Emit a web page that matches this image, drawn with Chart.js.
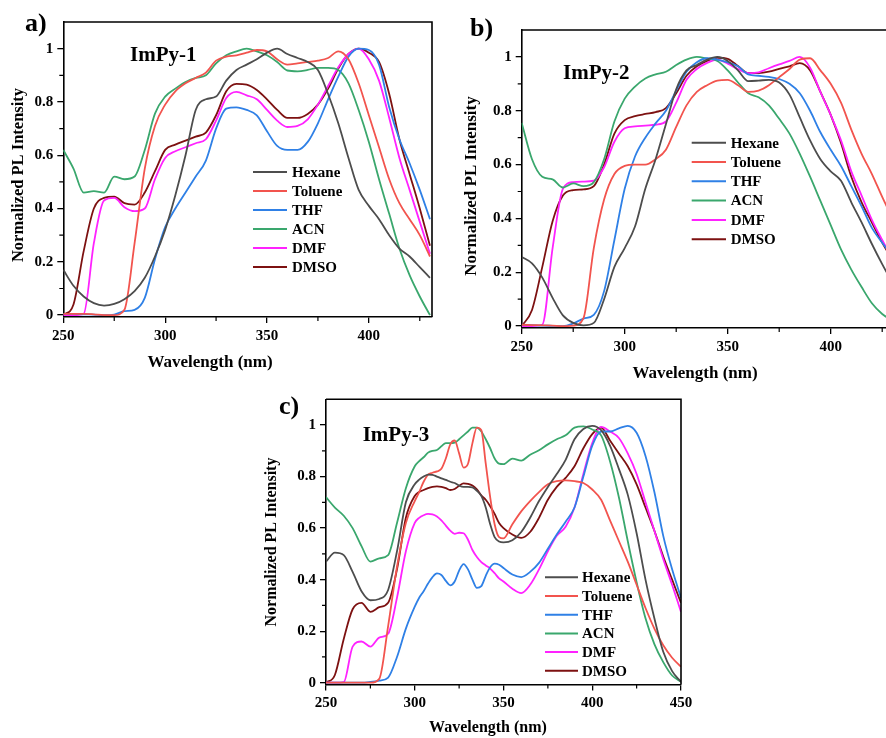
<!DOCTYPE html>
<html>
<head>
<meta charset="utf-8">
<script src="https://cdn.jsdelivr.net/npm/chart.js@4.4.1/dist/chart.umd.min.js"></script>
<style>
  html, body { margin: 0; padding: 0; overflow: hidden; background: #fff; }
  body { width: 886px; height: 738px; position: relative; }
  canvas { position: absolute; }
</style>
</head>
<body>
<canvas id="panelA" width="440" height="380" style="left:0;top:0"></canvas>
<canvas id="panelB" width="460" height="390" style="left:440px;top:0"></canvas>
<canvas id="panelC" width="460" height="378" style="left:250px;top:360px"></canvas>
<script>
// Espectros de PL normalizados de ImPy-1, ImPy-2 e ImPy-3 en seis disolventes
const solvents = ['Hexane', 'Toluene', 'THF', 'ACN', 'DMF', 'DMSO'];
const solventColors = ['#4d4d4d', '#f2544e', '#2f80e6', '#3aa76d', '#ff22ff', '#7d1111'];

const yTicks = [0, 0.2, 0.4, 0.6, 0.8, 1];
const yMinor = [0.1, 0.3, 0.5, 0.7, 0.9];
const xTicksAB = [250, 300, 350, 400];
const xTicksC = [250, 300, 350, 400, 450];
const xMinor = [275, 325, 375, 425];

// ImPy-1
const wlA = [250, 255, 260, 265, 270, 275, 280, 285, 290, 295, 300, 305, 310, 315, 320, 325, 330, 335, 340,
  345, 350, 355, 360, 365, 370, 375, 380, 385, 390, 395, 400, 405, 410, 415, 420, 425, 430];
const hexaneA = [0.17, 0.11, 0.07, 0.045, 0.036, 0.042, 0.06, 0.09, 0.14, 0.22, 0.32, 0.45, 0.60, 0.77, 0.81, 0.82, 0.88, 0.92, 0.94,
  0.96, 0.985, 1.0, 0.98, 0.965, 0.95, 0.92, 0.83, 0.72, 0.59, 0.47, 0.41, 0.36, 0.30, 0.25, 0.22, 0.18, 0.14];
const tolueneA = [0.005, 0.005, 0.005, 0.003, 0.0, 0.0, 0.02, 0.27, 0.55, 0.71, 0.79, 0.84, 0.87, 0.89, 0.91, 0.955, 0.97, 0.975, 0.985,
  0.995, 0.99, 0.96, 0.94, 0.945, 0.95, 0.955, 0.965, 0.99, 0.96, 0.87, 0.75, 0.63, 0.51, 0.42, 0.36, 0.30, 0.22];
const thfA = [0.005, 0.005, 0.003, 0.002, 0.0, 0.002, 0.015, 0.02, 0.065, 0.21, 0.33, 0.40, 0.46, 0.52, 0.58, 0.70, 0.775, 0.78, 0.77,
  0.75, 0.69, 0.635, 0.62, 0.62, 0.65, 0.72, 0.81, 0.895, 0.97, 1.0, 0.995, 0.94, 0.78, 0.66, 0.57, 0.47, 0.36];
const acnA = [0.62, 0.55, 0.46, 0.465, 0.46, 0.52, 0.51, 0.52, 0.62, 0.756, 0.82, 0.85, 0.875, 0.89, 0.90, 0.945, 0.975, 0.99, 1.0,
  0.99, 0.975, 0.95, 0.918, 0.915, 0.92, 0.928, 0.928, 0.92, 0.87, 0.77, 0.65, 0.51, 0.38, 0.25, 0.15, 0.07, 0.0];
const dmfA = [0.0, 0.0, 0.005, 0.27, 0.43, 0.44, 0.405, 0.39, 0.40, 0.51, 0.59, 0.615, 0.63, 0.645, 0.66, 0.73, 0.815, 0.838, 0.825,
  0.81, 0.77, 0.73, 0.706, 0.71, 0.735, 0.79, 0.86, 0.93, 0.98, 1.0, 0.96, 0.88, 0.74, 0.59, 0.47, 0.35, 0.23];
const dmsoA = [0.0, 0.04, 0.24, 0.40, 0.44, 0.445, 0.42, 0.415, 0.46, 0.54, 0.62, 0.64, 0.655, 0.67, 0.685, 0.75, 0.84, 0.868, 0.865,
  0.845, 0.81, 0.77, 0.74, 0.74, 0.755, 0.79, 0.85, 0.925, 0.98, 1.0, 0.985, 0.95, 0.83, 0.66, 0.53, 0.40, 0.26];

// ImPy-2
const wlB = wlA;
const hexaneB = [0.257, 0.233, 0.18, 0.105, 0.04, 0.012, 0.003, 0.012, 0.10, 0.22, 0.29, 0.37, 0.51, 0.62, 0.75, 0.88, 0.95, 0.97, 0.99,
  1.0, 0.985, 0.95, 0.91, 0.912, 0.915, 0.905, 0.86, 0.775, 0.69, 0.62, 0.575, 0.54, 0.46, 0.385, 0.305, 0.23, 0.16];
const tolueneB = [0.005, 0.004, 0.003, 0.002, 0.0, 0.002, 0.03, 0.29, 0.47, 0.565, 0.595, 0.60, 0.60, 0.62, 0.655, 0.74, 0.82, 0.87, 0.895,
  0.912, 0.915, 0.895, 0.87, 0.875, 0.895, 0.925, 0.955, 0.99, 0.995, 0.95, 0.90, 0.83, 0.73, 0.64, 0.565, 0.48, 0.40];
const thfB = [0.005, 0.004, 0.002, 0.001, 0.0, 0.01, 0.028, 0.042, 0.13, 0.32, 0.51, 0.63, 0.70, 0.753, 0.80, 0.875, 0.945, 0.98, 0.995,
  0.99, 0.98, 0.965, 0.935, 0.93, 0.926, 0.918, 0.90, 0.865, 0.80, 0.72, 0.655, 0.595, 0.52, 0.445, 0.365, 0.31, 0.26];
const acnB = [0.755, 0.62, 0.555, 0.545, 0.515, 0.53, 0.52, 0.535, 0.62, 0.76, 0.845, 0.89, 0.92, 0.935, 0.945, 0.97, 0.99, 1.0, 0.994,
  0.985, 0.95, 0.905, 0.865, 0.85, 0.82, 0.77, 0.715, 0.64, 0.555, 0.465, 0.375, 0.285, 0.21, 0.145, 0.085, 0.045, 0.02];
const dmfB = [0.0, 0.0, 0.005, 0.29, 0.51, 0.535, 0.537, 0.54, 0.59, 0.685, 0.735, 0.742, 0.745, 0.748, 0.76, 0.83, 0.915, 0.955, 0.978,
  0.99, 0.975, 0.955, 0.94, 0.943, 0.958, 0.972, 0.985, 1.0, 0.96, 0.87, 0.785, 0.69, 0.575, 0.485, 0.395, 0.32, 0.25];
const dmsoB = [0.0, 0.06, 0.22, 0.39, 0.485, 0.505, 0.508, 0.52, 0.60, 0.715, 0.765, 0.78, 0.788, 0.795, 0.81, 0.865, 0.93, 0.965, 0.985,
  0.997, 0.993, 0.966, 0.94, 0.94, 0.945, 0.956, 0.965, 0.977, 0.95, 0.87, 0.785, 0.68, 0.555, 0.46, 0.385, 0.31, 0.245];

// ImPy-3 (paso más fino entre 300 y 350 nm)
const wlC = [250, 255, 260, 265, 270, 275, 280, 285, 290, 295, 300,
  302.5, 305, 307.5, 310, 312.5, 315, 317.5, 320, 322.5, 325, 327.5, 330, 332.5, 335, 337.5, 340, 342.5, 345, 347.5, 350,
  355, 360, 365, 370, 375, 380, 385, 390, 395, 400, 405, 410, 415, 420, 425, 430, 435, 440, 445, 450];
const hexaneC = [0.47, 0.505, 0.495, 0.43, 0.355, 0.32, 0.325, 0.36, 0.51, 0.70, 0.77,
  0.788, 0.80, 0.808, 0.807, 0.80, 0.793, 0.787, 0.78, 0.775, 0.765, 0.76, 0.76, 0.758, 0.745, 0.725, 0.68, 0.615, 0.565, 0.548, 0.545,
  0.553, 0.585, 0.64, 0.705, 0.76, 0.81, 0.865, 0.945, 0.985, 0.997, 0.98, 0.92, 0.83, 0.73, 0.58, 0.40, 0.25, 0.12, 0.045, 0.003];
const tolueneC = [0.0, 0.0, 0.0, 0.0, 0.0, 0.0, 0.015, 0.22, 0.45, 0.62, 0.705,
  0.74, 0.78, 0.808, 0.815, 0.82, 0.83, 0.87, 0.925, 0.94, 0.89, 0.835, 0.85, 0.93, 0.99, 0.98, 0.85, 0.72, 0.615, 0.565, 0.56,
  0.615, 0.665, 0.705, 0.74, 0.77, 0.782, 0.785, 0.782, 0.775, 0.75, 0.71, 0.63, 0.55, 0.47, 0.38, 0.29, 0.21, 0.145, 0.097, 0.062];
const thfC = [0.0, 0.0, 0.0, 0.0, 0.0, 0.003, 0.008, 0.02, 0.10, 0.21, 0.295,
  0.33, 0.355, 0.385, 0.41, 0.424, 0.418, 0.395, 0.378, 0.393, 0.435, 0.46, 0.44, 0.40, 0.368, 0.375, 0.415, 0.448, 0.462, 0.458, 0.445,
  0.42, 0.41, 0.43, 0.465, 0.52, 0.575, 0.625, 0.68, 0.80, 0.92, 0.975, 0.975, 0.987, 0.997, 0.97, 0.88, 0.74, 0.57, 0.44, 0.33];
const acnC = [0.72, 0.68, 0.648, 0.60, 0.53, 0.47, 0.483, 0.495, 0.62, 0.755, 0.84,
  0.86, 0.875, 0.893, 0.90, 0.903, 0.918, 0.93, 0.93, 0.932, 0.945, 0.96, 0.975, 0.99, 0.99, 0.975, 0.945, 0.91, 0.87, 0.85, 0.848,
  0.87, 0.862, 0.885, 0.902, 0.925, 0.945, 0.96, 0.99, 0.995, 0.983, 0.96, 0.86, 0.72, 0.55, 0.39, 0.25, 0.15, 0.08, 0.028, 0.004];
const dmfC = [0.0, 0.0, 0.002, 0.14, 0.16, 0.14, 0.175, 0.19, 0.33, 0.51, 0.62,
  0.64, 0.65, 0.655, 0.653, 0.645, 0.63, 0.61, 0.59, 0.578, 0.582, 0.58, 0.555, 0.515, 0.488, 0.468, 0.455, 0.443, 0.425, 0.405, 0.393,
  0.365, 0.348, 0.38, 0.44, 0.51, 0.57, 0.605, 0.68, 0.81, 0.93, 0.993, 0.975, 0.95, 0.89, 0.81, 0.70, 0.59, 0.48, 0.38, 0.275];
const dmsoC = [0.0, 0.03, 0.17, 0.285, 0.31, 0.275, 0.293, 0.31, 0.44, 0.64, 0.725,
  0.74, 0.748, 0.755, 0.76, 0.762, 0.76, 0.755, 0.748, 0.752, 0.764, 0.774, 0.772, 0.765, 0.75, 0.727, 0.71, 0.685, 0.655, 0.62, 0.60,
  0.575, 0.562, 0.585, 0.64, 0.71, 0.76, 0.795, 0.84, 0.91, 0.965, 0.99, 0.94, 0.89, 0.84, 0.77, 0.68, 0.59, 0.49, 0.40, 0.31];

const serif = '"Liberation Serif", "Times New Roman", serif';
const tickFont = { family: serif, weight: 'bold', size: 15 };

// marco superior/derecho, ticks menores, leyenda con fondo blanco y rótulos
const decoPlugin = {
  id: 'deco',
  afterDatasetsDraw(chart, args, o) {
    const { ctx, chartArea: ca, scales: { x, y } } = chart;
    ctx.save();
    ctx.strokeStyle = '#000';
    ctx.lineWidth = 1.6;
    ctx.beginPath();
    ctx.moveTo(ca.left, ca.top);
    ctx.lineTo(ca.right, ca.top);
    ctx.lineTo(ca.right, ca.bottom);
    ctx.stroke();

    ctx.lineWidth = 1.2;
    ctx.beginPath();
    xMinor.forEach(v => {
      const px = x.getPixelForValue(v);
      if (px > ca.right) return;
      ctx.moveTo(px, ca.bottom);
      ctx.lineTo(px, ca.bottom + 4);
    });
    yMinor.forEach(v => {
      const py = y.getPixelForValue(v);
      ctx.moveTo(ca.left, py);
      ctx.lineTo(ca.left - 4, py);
    });
    ctx.stroke();

    // leyenda
    const lg = o.legend;
    ctx.font = 'bold 15px ' + serif;
    const textW = Math.max(...solvents.map(s => ctx.measureText(s).width));
    ctx.fillStyle = '#fff';
    ctx.fillRect(lg.x0 - 2, lg.y0 - 9, lg.tx - lg.x0 + textW - 2, lg.step * solvents.length);
    ctx.textBaseline = 'middle';
    ctx.textAlign = 'left';
    chart.data.datasets.forEach((ds, i) => {
      const ry = lg.y0 + i * lg.step;
      ctx.strokeStyle = ds.borderColor;
      ctx.lineWidth = 2;
      ctx.beginPath();
      ctx.moveTo(lg.x0, ry);
      ctx.lineTo(lg.x1, ry);
      ctx.stroke();
      ctx.fillStyle = '#000';
      ctx.fillText(ds.label, lg.tx, ry + 1);
    });

    // rótulos del panel
    ctx.fillStyle = '#000';
    ctx.textBaseline = 'alphabetic';
    ctx.font = 'bold 26px ' + serif;
    ctx.fillText(o.letter.text, o.letter.x, o.letter.y);
    ctx.font = 'bold 21px ' + serif;
    ctx.fillText(o.name.text, o.name.x, o.name.y);

    ctx.textAlign = 'center';
    ctx.textBaseline = 'middle';
    ctx.font = 'bold ' + o.xTitle.size + 'px ' + serif;
    ctx.fillText('Wavelength (nm)', o.xTitle.x, o.xTitle.y);
    ctx.translate(o.yTitle.x, o.yTitle.y);
    ctx.rotate(-Math.PI / 2);
    ctx.font = 'bold ' + o.yTitle.size + 'px ' + serif;
    ctx.fillText('Normalized PL Intensity', 0, 0);
    ctx.restore();
  }
};

function buildPanel(id, wl, series, cfg) {
  const datasets = solvents.map((name, i) => ({
    label: name,
    data: wl.map((w, k) => ({ x: w, y: series[i][k] })),
    borderColor: solventColors[i],
    borderWidth: 1.8,
    pointRadius: 0,
    cubicInterpolationMode: 'monotone',
    fill: false
  }));
  return new Chart(document.getElementById(id), {
    type: 'line',
    data: { datasets },
    options: {
      responsive: false,
      animation: false,
      events: [],
      layout: { padding: cfg.padding },
      plugins: { legend: { display: false }, tooltip: { enabled: false }, deco: cfg.deco },
      scales: {
        x: {
          type: 'linear',
          min: 250,
          max: cfg.xMax,
          afterBuildTicks: s => { s.ticks = cfg.xTicks.map(v => ({ value: v })); },
          afterFit: s => { s.height = cfg.xHeight; },
          grid: { drawOnChartArea: false, drawTicks: true, tickLength: 6, color: '#000', lineWidth: 1.3 },
          border: { color: '#000', width: 1.6 },
          ticks: { font: tickFont, color: '#000', padding: 4, maxRotation: 0, autoSkip: false }
        },
        y: {
          min: -0.007,
          max: 1.1,
          afterBuildTicks: s => { s.ticks = yTicks.map(v => ({ value: v })); },
          afterFit: s => { s.width = cfg.yWidth; },
          grid: { drawOnChartArea: false, drawTicks: true, tickLength: 6, color: '#000', lineWidth: 1.3 },
          border: { color: '#000', width: 1.6 },
          ticks: { font: tickFont, color: '#000', padding: 4, callback: v => String(v) }
        }
      }
    },
    plugins: [decoPlugin]
  });
}

buildPanel('panelA', wlA, [hexaneA, tolueneA, thfA, acnA, dmfA, dmsoA], {
  xMax: 431, xTicks: xTicksAB,
  padding: { left: 0, right: 8, top: 22, bottom: 0 },
  yWidth: 63.3, xHeight: 63,
  deco: {
    legend: { x0: 253, x1: 287, tx: 292, y0: 172, step: 19 },
    letter: { text: 'a)', x: 25, y: 31 },
    name: { text: 'ImPy-1', x: 130, y: 61 },
    xTitle: { x: 210, y: 363, size: 17 },
    yTitle: { x: 19, y: 175, size: 16.5 }
  }
});

buildPanel('panelB', wlB, [hexaneB, tolueneB, thfB, acnB, dmfB, dmsoB], {
  xMax: 430, xTicks: xTicksAB,
  padding: { left: 0, right: 7.5, top: 30, bottom: 0 },
  yWidth: 81.7, xHeight: 62,
  deco: {
    legend: { x0: 251.7, x1: 286, tx: 290.7, y0: 142.7, step: 19.3 },
    letter: { text: 'b)', x: 30, y: 36 },
    name: { text: 'ImPy-2', x: 123, y: 79 },
    xTitle: { x: 255, y: 374, size: 17 },
    yTitle: { x: 31.7, y: 186, size: 17 }
  }
});

buildPanel('panelC', wlC, [hexaneC, tolueneC, thfC, acnC, dmfC, dmsoC], {
  xMax: 450, xTicks: xTicksC,
  padding: { left: 0, right: 29, top: 39.3, bottom: 0 },
  yWidth: 76, xHeight: 53.5,
  deco: {
    legend: { x0: 295, x1: 328, tx: 332, y0: 217.3, step: 18.7 },
    letter: { text: 'c)', x: 29, y: 54 },
    name: { text: 'ImPy-3', x: 112.7, y: 81 },
    xTitle: { x: 238, y: 367.5, size: 16 },
    yTitle: { x: 21.7, y: 182, size: 16 }
  }
});
</script>
</body>
</html>
